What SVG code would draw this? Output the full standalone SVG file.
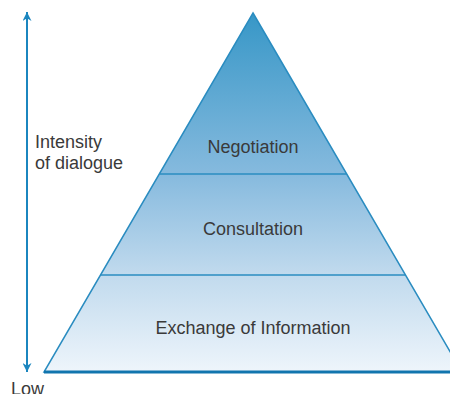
<svg xmlns="http://www.w3.org/2000/svg" width="450" height="394" viewBox="0 0 450 394">
<defs>
<linearGradient id="g" gradientUnits="userSpaceOnUse" x1="0" y1="13" x2="0" y2="372">
<stop offset="0" stop-color="#3797c7"/>
<stop offset="0.45" stop-color="#86bade"/>
<stop offset="0.72" stop-color="#bfd9ed"/>
<stop offset="1" stop-color="#eef5fb"/>
</linearGradient>
<marker id="ah" viewBox="0 0 10 10" refX="10" refY="5" markerWidth="9" markerHeight="9" markerUnits="userSpaceOnUse" orient="auto-start-reverse">
<path d="M0,0 L10,5 L0,10 L3,5 Z" fill="#1b86bf"/>
</marker>
<style>
text{font-family:"Liberation Sans",Arial,sans-serif;font-size:18px;fill:#3a3a3a}
.c{text-anchor:middle}
.tier{stroke:#2a8cc0;stroke-width:1.5;fill:none}
</style>
</defs>
<g id="pyramid">
<polygon points="253,13 462,372 44,372" fill="url(#g)" stroke="#2a8cc0" stroke-width="1.5"/>
</g>
<g id="connectors">
<line class="tier" x1="159.5" y1="174" x2="346.5" y2="174"/>
<line class="tier" x1="100.5" y1="275" x2="405.5" y2="275"/>
<line x1="44" y1="372" x2="450" y2="372" stroke="#1175ae" stroke-width="3"/>
<line x1="27" y1="12" x2="27" y2="372" stroke="#1b86bf" stroke-width="2" marker-start="url(#ah)" marker-end="url(#ah)"/>
</g>
<g id="negotiation"><text class="c" x="253" y="153">Negotiation</text></g>
<g id="consultation"><text class="c" x="253" y="235">Consultation</text></g>
<g id="exchange"><text class="c" x="253" y="334">Exchange of Information</text></g>
<g id="axis-label"><text x="35" y="148">Intensity</text><text x="35" y="169">of dialogue</text></g>
<g id="low"><text x="11" y="395">Low</text></g>
</svg>
